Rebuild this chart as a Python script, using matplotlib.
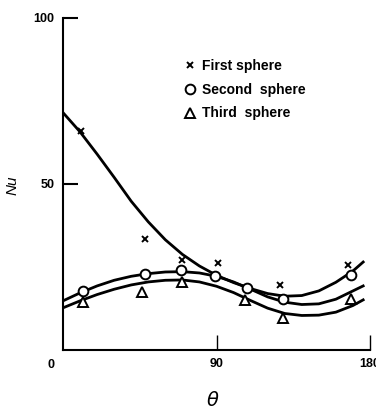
import matplotlib
matplotlib.use("Agg")
import matplotlib.pyplot as plt

# measured points
first_theta = [10.5, 48, 70, 91, 127.5, 167]
first_nu = [66, 33.4, 27.2, 26.1, 19.6, 25.6]

second_theta = [11.6, 48, 69, 89.2, 108, 129, 168.6]
second_nu = [17.8, 22.9, 24.1, 22.4, 18.7, 15.4, 22.6]

third_theta = [11.6, 46.4, 70, 107, 129, 168.6]
third_nu = [14.5, 17.5, 20.5, 15.1, 9.6, 15.4]

# fitted curves
curve_theta = [0, 10, 20, 30, 40, 50, 60, 70, 80, 90, 100, 110, 120, 130,
               140, 150, 160, 170, 176]
curve_first = [71.5, 65.7, 59.0, 52.0, 44.8, 38.6, 33.2, 28.8, 25.3, 22.5,
               20.3, 18.5, 17.0, 16.2, 16.4, 17.8, 20.4, 23.8, 26.5]
curve_second = [14.8, 17.2, 19.3, 21.0, 22.2, 23.0, 23.5, 23.6, 23.2, 22.2,
                20.5, 18.3, 16.0, 14.4, 13.7, 13.9, 15.3, 17.8, 19.3]
curve_third = [12.7, 14.8, 16.7, 18.3, 19.6, 20.5, 21.0, 21.1, 20.5, 19.2,
               17.3, 14.9, 12.6, 11.0, 10.4, 10.5, 11.4, 13.4, 15.1]

plt.rcParams['font.family'] = ['Liberation Sans', 'DejaVu Sans']

fig = plt.figure(figsize=(3.76, 4.09), dpi=100)
ax = fig.add_axes([63 / 376, 1 - 350 / 409, 307 / 376, 332 / 409])

for c in (curve_first, curve_second, curve_third):
    ax.plot(curve_theta, c, color='black', lw=2, zorder=2)

ax.plot(first_theta, first_nu, ls='none', marker='x', ms=5, mew=1.4,
        color='black', zorder=3, label='First sphere')
ax.plot(second_theta, second_nu, ls='none', marker='o', ms=7, mew=1.4,
        mfc='white', mec='black', zorder=3, label='Second  sphere')
ax.plot(third_theta, third_nu, ls='none', marker='^', ms=6.5, mew=1.4,
        mfc='white', mec='black', zorder=3, label='Third  sphere')

ax.set_xlim(0, 180)
ax.set_ylim(0, 100)
for s in ('top', 'right'):
    ax.spines[s].set_visible(False)
for s in ('left', 'bottom'):
    ax.spines[s].set_linewidth(1.5)

ax.set_yticks([50, 100])
ax.set_yticklabels(['50', '100'], fontsize=9, fontweight='bold')
ax.tick_params(axis='y', direction='in', length=11, width=1.5, pad=6)
ax.set_xticks([90, 180])
ax.set_xticklabels(['90', '180'], fontsize=9, fontweight='bold')
ax.tick_params(axis='x', direction='in', length=11, width=1, pad=6)
ax.annotate('0', xy=(0, 0), xytext=(-12, -15), textcoords='offset pixels',
            ha='center', va='center', fontsize=9, fontweight='bold')

ax.set_ylabel('Nu', fontsize=11, style='italic')
ax.yaxis.set_label_coords(-0.14, 0.497)
ax.set_xlabel(r'$\theta$', fontsize=14)
ax.xaxis.set_label_coords(0.489, -0.125)

ax.legend(loc='upper left', bbox_to_anchor=(183 / 376, 1 - 59 / 409),
          bbox_transform=fig.transFigure, frameon=False, borderpad=0,
          borderaxespad=0, handlelength=1.0, handletextpad=0.4,
          labelspacing=0.7, prop={'size': 10, 'weight': 'bold'})

fig.savefig('out.png', dpi=100)
plt.close(fig)
